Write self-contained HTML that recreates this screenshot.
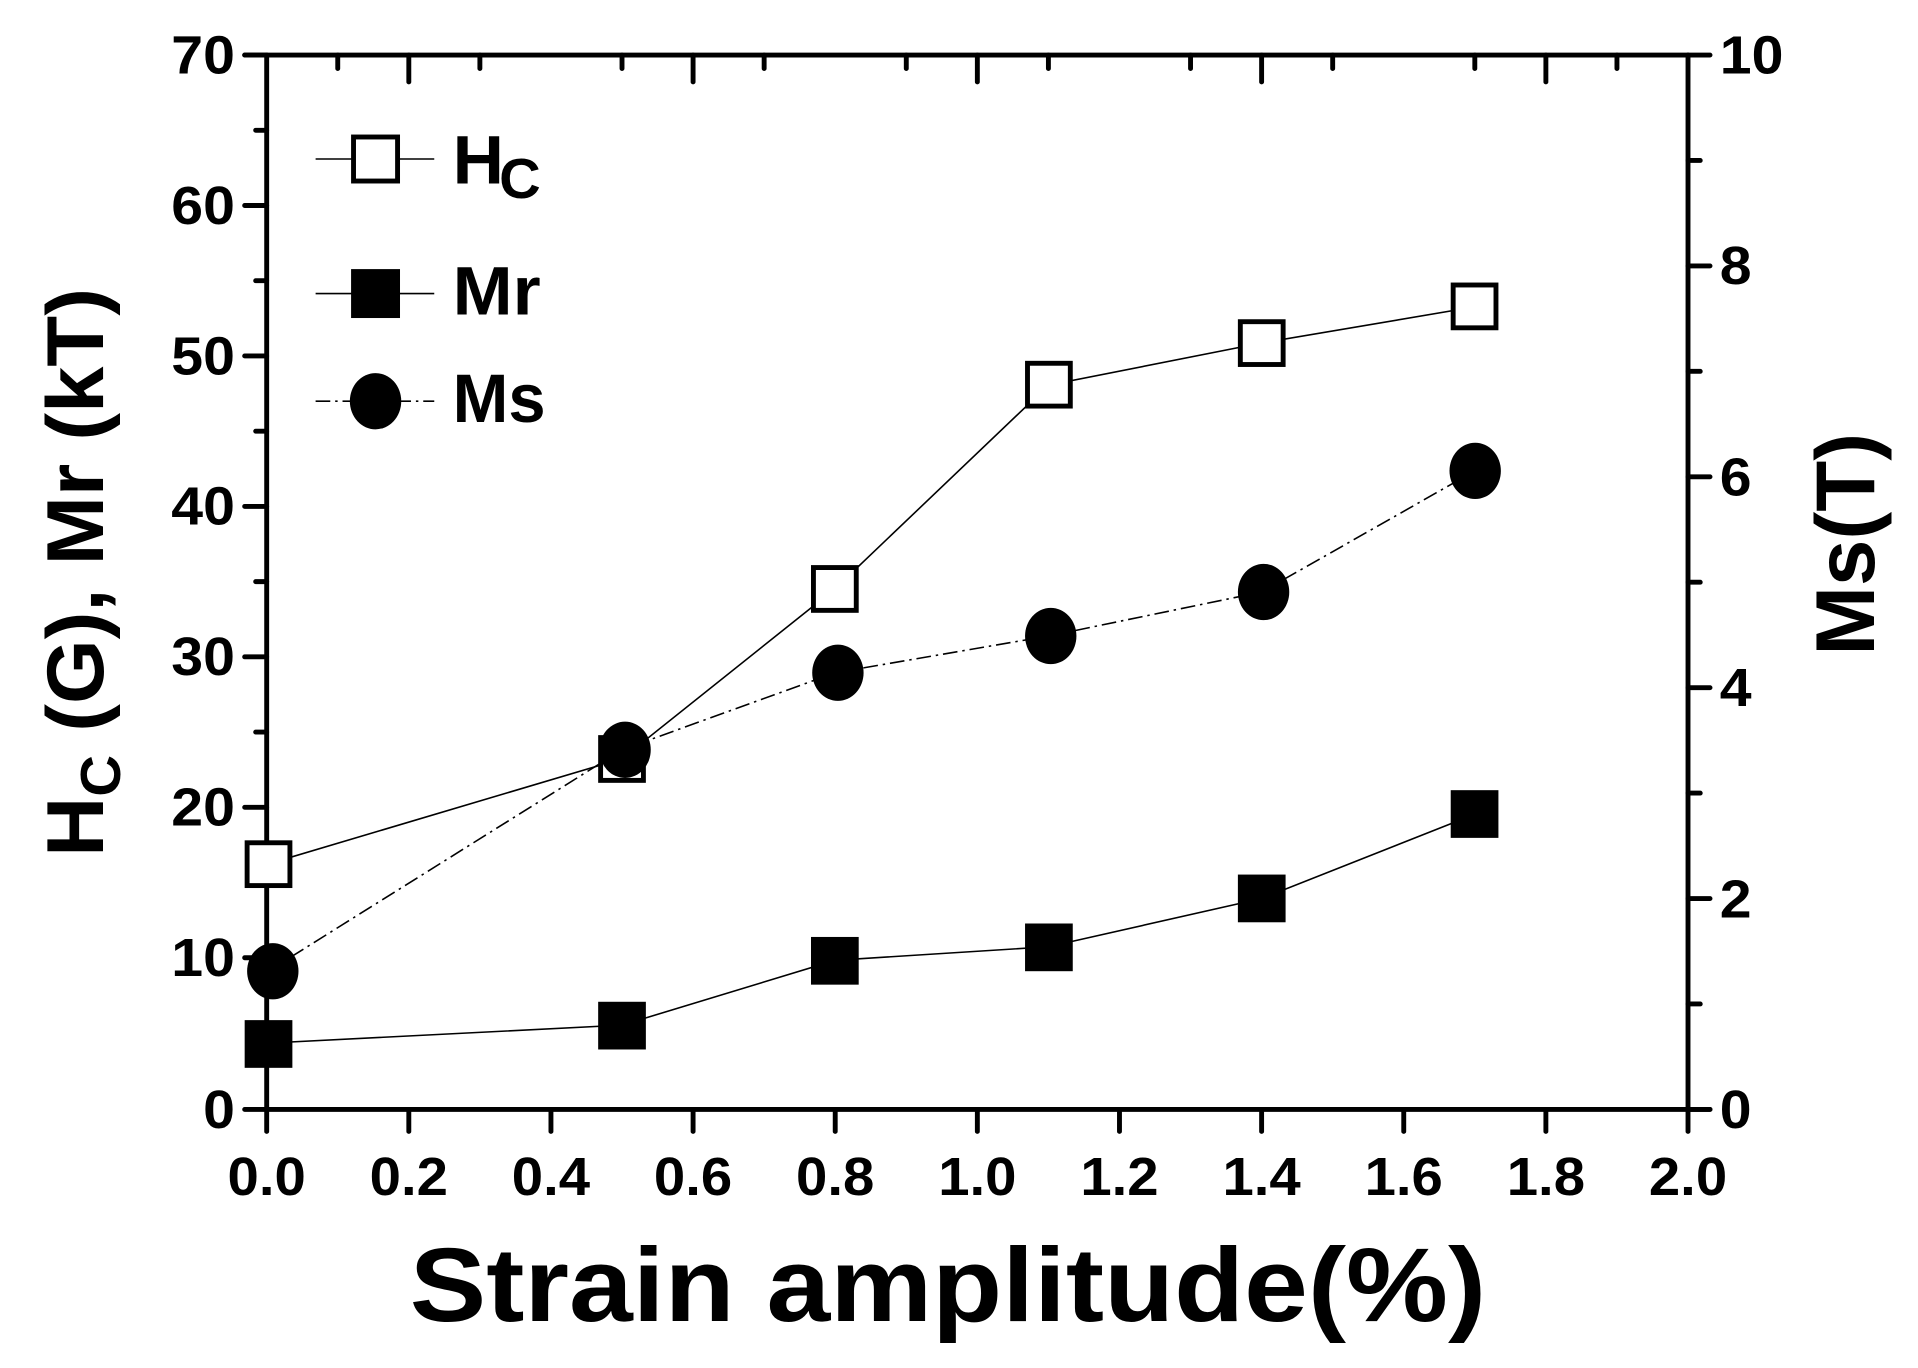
<!DOCTYPE html>
<html><head><meta charset="utf-8"><style>html,body{margin:0;padding:0;background:#fff}svg{display:block}</style></head>
<body>
<svg width="1918" height="1368" viewBox="0 0 1568 1118.4" xmlns="http://www.w3.org/2000/svg" font-family="'Liberation Sans', Arial, sans-serif" font-weight="bold">
<rect width="1568" height="1118.4" fill="#fff"/>
<g stroke="#000" stroke-width="4" stroke-linecap="round" fill="none">
<line x1="218" y1="45" x2="218" y2="907"/>
<line x1="1380" y1="45" x2="1380" y2="907"/>
<line x1="200" y1="45" x2="1380" y2="45"/>
<line x1="218" y1="907" x2="1398" y2="907"/>
<path d="M200 45H218M200 168H218M200 291H218M200 414H218M200 537H218M200 660H218M200 783H218M200 907H218"/>
<path d="M209 106.5H218M209 229.5H218M209 352.5H218M209 475.5H218M209 598.5H218M209 721.5H218M209 845H218"/>
<path d="M1380 45H1398M1380 217.4H1398M1380 389.8H1398M1380 562.2H1398M1380 734.6H1398M1380 907H1398"/>
<path d="M1380 131.2H1390M1380 303.6H1390M1380 476H1390M1380 648.4H1390M1380 820.8H1390"/>
<path d="M218 907V925M450.4 907V925M682.8 907V925M915.2 907V925M1147.6 907V925M1380 907V925M334.2 907V925M566.6 907V925M799 907V925M1031.4 907V925M1263.8 907V925"/>
<path d="M334.2 45V67M566.6 45V67M799 45V67M1031.4 45V67M1263.8 45V67M276.1 45V56M392.3 45V56M508.5 45V56M624.7 45V56M740.9 45V56M857.1 45V56M973.3 45V56M1089.5 45V56M1205.7 45V56M1321.9 45V56"/>
</g>
<g font-size="44" text-anchor="end">
<text x="192" y="60" textLength="52" lengthAdjust="spacingAndGlyphs">70</text>
<text x="192" y="183" textLength="52" lengthAdjust="spacingAndGlyphs">60</text>
<text x="192" y="306" textLength="52" lengthAdjust="spacingAndGlyphs">50</text>
<text x="192" y="429" textLength="52" lengthAdjust="spacingAndGlyphs">40</text>
<text x="192" y="552" textLength="52" lengthAdjust="spacingAndGlyphs">30</text>
<text x="192" y="675" textLength="52" lengthAdjust="spacingAndGlyphs">20</text>
<text x="192" y="798" textLength="52" lengthAdjust="spacingAndGlyphs">10</text>
<text x="192" y="922" textLength="26" lengthAdjust="spacingAndGlyphs">0</text>
</g>
<g font-size="44" text-anchor="start">
<text x="1406" y="60" textLength="52" lengthAdjust="spacingAndGlyphs">10</text>
<text x="1406" y="232" textLength="26" lengthAdjust="spacingAndGlyphs">8</text>
<text x="1406" y="405" textLength="26" lengthAdjust="spacingAndGlyphs">6</text>
<text x="1406" y="577" textLength="26" lengthAdjust="spacingAndGlyphs">4</text>
<text x="1406" y="750" textLength="26" lengthAdjust="spacingAndGlyphs">2</text>
<text x="1406" y="922" textLength="26" lengthAdjust="spacingAndGlyphs">0</text>
</g>
<g font-size="44" text-anchor="middle">
<text x="218" y="977" textLength="64" lengthAdjust="spacingAndGlyphs">0.0</text>
<text x="334.2" y="977" textLength="64" lengthAdjust="spacingAndGlyphs">0.2</text>
<text x="450.4" y="977" textLength="64" lengthAdjust="spacingAndGlyphs">0.4</text>
<text x="566.6" y="977" textLength="64" lengthAdjust="spacingAndGlyphs">0.6</text>
<text x="682.8" y="977" textLength="64" lengthAdjust="spacingAndGlyphs">0.8</text>
<text x="799" y="977" textLength="64" lengthAdjust="spacingAndGlyphs">1.0</text>
<text x="915.2" y="977" textLength="64" lengthAdjust="spacingAndGlyphs">1.2</text>
<text x="1031.4" y="977" textLength="64" lengthAdjust="spacingAndGlyphs">1.4</text>
<text x="1147.6" y="977" textLength="64" lengthAdjust="spacingAndGlyphs">1.6</text>
<text x="1263.8" y="977" textLength="64" lengthAdjust="spacingAndGlyphs">1.8</text>
<text x="1380" y="977" textLength="64" lengthAdjust="spacingAndGlyphs">2.0</text>
</g>
<text x="775" y="1080" font-size="86" text-anchor="middle" textLength="880" lengthAdjust="spacingAndGlyphs">Strain amplitude(%)</text>
<text transform="translate(84,468) rotate(-90)" font-size="66" text-anchor="middle" textLength="465" lengthAdjust="spacingAndGlyphs">H<tspan font-size="46" dy="14">C</tspan><tspan dy="-14"> (G), Mr (kT)</tspan></text>
<text transform="translate(1532,445) rotate(-90)" font-size="68" text-anchor="middle" textLength="182" lengthAdjust="spacingAndGlyphs">Ms(T)</text>
<g fill="none" stroke="#000" stroke-width="1.3">
<polyline points="219.2,706.3 508.5,620.3 682.8,481.2 857.1,314.9 1031.4,280.4 1205.7,250.9"/>
<polyline points="219.2,852.8 508.5,838.1 682.8,785.1 857.1,774 1031.4,734.6 1205.7,665.7"/>
<polyline points="219.2,794 508.5,613 682.8,550 857.1,520 1031.4,484 1205.7,385" stroke-dasharray="12,4,2,4"/>
<line x1="258" y1="130" x2="355" y2="130"/>
<line x1="258" y1="240" x2="355" y2="240"/>
<line x1="258" y1="328" x2="355" y2="328" stroke-dasharray="12,4,2,4"/>
</g>
<g fill="#fff" stroke="#000" stroke-width="4">
<rect x="202" y="689" width="35" height="35"/>
<rect x="491" y="603" width="35" height="35"/>
<rect x="665" y="464" width="35" height="35"/>
<rect x="840" y="297" width="35" height="35"/>
<rect x="1014" y="263" width="35" height="35"/>
<rect x="1188" y="233" width="35" height="35"/>
<rect x="289" y="112" width="36" height="36"/>
</g>
<g fill="#000">
<rect x="200" y="834" width="39" height="39"/>
<rect x="489" y="819" width="39" height="39"/>
<rect x="663" y="766" width="39" height="39"/>
<rect x="838" y="755" width="39" height="39"/>
<rect x="1012" y="715" width="39" height="39"/>
<rect x="1186" y="646" width="39" height="39"/>
<rect x="287" y="220" width="40" height="40"/>
<ellipse cx="223" cy="794" rx="21" ry="23"/>
<ellipse cx="511" cy="613" rx="21" ry="23"/>
<ellipse cx="685" cy="550" rx="21" ry="23"/>
<ellipse cx="859" cy="520" rx="21" ry="23"/>
<ellipse cx="1033" cy="484" rx="21" ry="23"/>
<ellipse cx="1206" cy="385" rx="21" ry="23"/>
<ellipse cx="307" cy="328" rx="21" ry="23"/>
</g>
<g font-size="56">
<text x="370" y="150" textLength="42" lengthAdjust="spacingAndGlyphs">H</text>
<text x="408" y="162" font-size="46" textLength="34" lengthAdjust="spacingAndGlyphs">C</text>
<text x="370" y="257" textLength="72" lengthAdjust="spacingAndGlyphs">Mr</text>
<text x="370" y="345" textLength="76" lengthAdjust="spacingAndGlyphs">Ms</text>
</g>
</svg>
</body></html>
